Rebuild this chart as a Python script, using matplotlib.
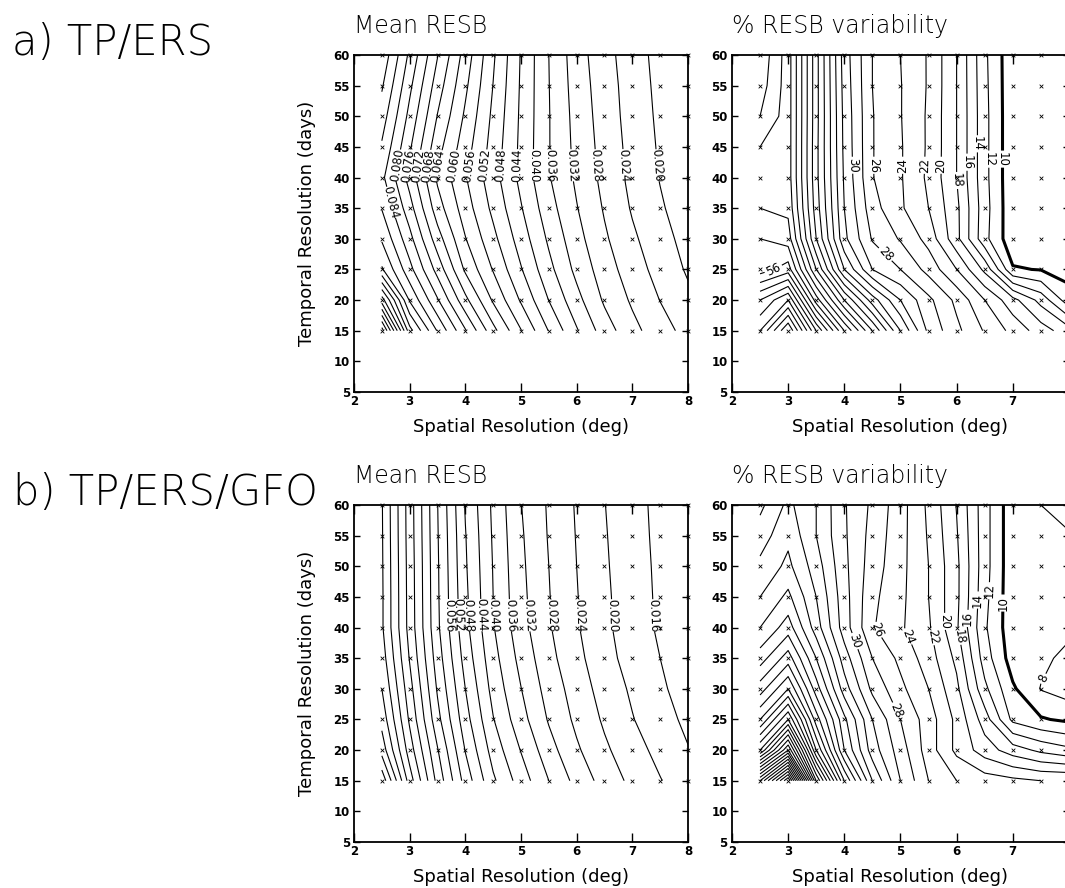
import numpy as np
import matplotlib
matplotlib.use("Agg")
import matplotlib.pyplot as plt

plt.rcParams['font.family'] = ['DejaVu Sans']

# grid of the experiments
spatial = [2.5, 3.0, 3.5, 4.0, 4.5, 5.0, 5.5, 6.0, 6.5, 7.0, 7.5, 8.0]
temporal = [15, 20, 25, 30, 35, 40, 45, 50, 55, 60]

# a) TP/ERS, mean RESB (rows = temporal, cols = spatial)
mean_tp_ers = [
    [0.1340, 0.1015, 0.0876, 0.0764, 0.0653, 0.0562, 0.0478, 0.0404, 0.0340, 0.0292, 0.0257, 0.0226],
    [0.1140, 0.0915, 0.0804, 0.0691, 0.0594, 0.0515, 0.0439, 0.0373, 0.0314, 0.0274, 0.0239, 0.0209],
    [0.0965, 0.0853, 0.0745, 0.0633, 0.0557, 0.0483, 0.0412, 0.0349, 0.0299, 0.0259, 0.0225, 0.0195],
    [0.0915, 0.0813, 0.0698, 0.0602, 0.0531, 0.0461, 0.0393, 0.0334, 0.0286, 0.0247, 0.0215, 0.0186],
    [0.0878, 0.0776, 0.0658, 0.0579, 0.0510, 0.0443, 0.0376, 0.0322, 0.0276, 0.0236, 0.0205, 0.0178],
    [0.0850, 0.0744, 0.0633, 0.0563, 0.0496, 0.0429, 0.0363, 0.0313, 0.0268, 0.0229, 0.0198, 0.0171],
    [0.0875, 0.0766, 0.0655, 0.0578, 0.0504, 0.0431, 0.0362, 0.0309, 0.0265, 0.0227, 0.0195, 0.0168],
    [0.0900, 0.0788, 0.0678, 0.0593, 0.0511, 0.0433, 0.0362, 0.0306, 0.0261, 0.0224, 0.0192, 0.0165],
    [0.0925, 0.0809, 0.0700, 0.0608, 0.0519, 0.0435, 0.0361, 0.0302, 0.0258, 0.0222, 0.0189, 0.0162],
    [0.0950, 0.0831, 0.0722, 0.0623, 0.0526, 0.0437, 0.0360, 0.0298, 0.0254, 0.0219, 0.0186, 0.0159],
]

# a) TP/ERS, % RESB variability
var_tp_ers = [
    [66.0, 74.0, 62.0, 52.0, 44.0, 36.0, 29.5, 26.5, 23.8, 21.4, 19.0, 16.8],
    [62.0, 66.0, 53.0, 44.0, 37.0, 32.0, 28.5, 25.5, 22.0, 18.7, 15.3, 10.8],
    [55.0, 57.0, 46.0, 36.0, 30.0, 28.0, 25.3, 22.0, 17.5, 10.2, 9.9, 9.3],
    [54.0, 53.0, 42.0, 32.5, 27.8, 25.8, 23.3, 18.6, 12.6, 8.6, 9.0, 9.0],
    [52.0, 51.5, 41.0, 32.0, 26.8, 24.3, 22.0, 18.5, 12.8, 8.5, 8.9, 9.0],
    [51.0, 51.0, 40.6, 31.7, 26.1, 24.2, 21.6, 18.0, 12.6, 8.5, 8.9, 9.0],
    [52.0, 51.0, 40.6, 31.5, 26.1, 24.2, 21.7, 18.0, 12.6, 8.5, 8.9, 9.0],
    [54.0, 51.0, 40.7, 31.4, 26.1, 24.1, 21.7, 18.0, 12.6, 8.5, 8.9, 9.0],
    [55.0, 51.0, 40.7, 31.2, 26.0, 24.1, 21.8, 18.0, 12.5, 8.5, 8.9, 9.0],
    [55.5, 51.0, 40.7, 31.0, 26.0, 24.0, 21.8, 18.0, 12.4, 8.5, 8.9, 8.9],
]

# b) TP/ERS/GFO, mean RESB
mean_tp_ers_gfo = [
    [0.1070, 0.0860, 0.0707, 0.0584, 0.0487, 0.0421, 0.0360, 0.0307, 0.0264, 0.0230, 0.0202, 0.0176],
    [0.0984, 0.0820, 0.0683, 0.0558, 0.0463, 0.0398, 0.0336, 0.0286, 0.0247, 0.0216, 0.0188, 0.0162],
    [0.0946, 0.0793, 0.0653, 0.0536, 0.0442, 0.0375, 0.0316, 0.0271, 0.0234, 0.0202, 0.0176, 0.0151],
    [0.0920, 0.0775, 0.0635, 0.0520, 0.0426, 0.0361, 0.0303, 0.0262, 0.0223, 0.0194, 0.0167, 0.0141],
    [0.0900, 0.0757, 0.0620, 0.0504, 0.0414, 0.0347, 0.0292, 0.0251, 0.0214, 0.0184, 0.0160, 0.0136],
    [0.0886, 0.0745, 0.0608, 0.0492, 0.0403, 0.0335, 0.0284, 0.0244, 0.0208, 0.0180, 0.0154, 0.0131],
    [0.0886, 0.0744, 0.0606, 0.0489, 0.0400, 0.0331, 0.0282, 0.0242, 0.0207, 0.0179, 0.0153, 0.0131],
    [0.0885, 0.0743, 0.0605, 0.0485, 0.0398, 0.0328, 0.0280, 0.0240, 0.0205, 0.0177, 0.0152, 0.0130],
    [0.0884, 0.0741, 0.0603, 0.0482, 0.0395, 0.0325, 0.0277, 0.0238, 0.0203, 0.0176, 0.0150, 0.0129],
    [0.0883, 0.0740, 0.0601, 0.0477, 0.0392, 0.0321, 0.0275, 0.0236, 0.0201, 0.0174, 0.0149, 0.0128],
]

# b) TP/ERS/GFO, % RESB variability
var_tp_ers_gfo = [
    [78.0, 92.0, 62.0, 46.0, 36.0, 30.0, 26.0, 24.0, 23.0, 22.5, 22.0, 22.0],
    [60.0, 72.0, 52.0, 40.0, 33.0, 29.0, 25.0, 21.5, 19.0, 17.0, 15.5, 14.5],
    [52.0, 60.0, 47.0, 38.5, 32.0, 28.0, 25.0, 21.5, 17.0, 11.5, 10.2, 9.6],
    [47.0, 52.0, 43.0, 35.0, 29.5, 26.5, 24.0, 20.5, 14.5, 10.3, 7.9, 7.0],
    [43.0, 47.0, 40.0, 33.0, 28.0, 25.5, 23.0, 19.5, 13.0, 9.0, 8.5, 7.4],
    [40.0, 43.0, 37.0, 31.0, 26.2, 24.3, 22.3, 18.3, 12.3, 8.7, 8.9, 8.5],
    [38.0, 40.5, 36.0, 30.8, 26.5, 24.5, 22.0, 18.5, 12.6, 8.6, 8.8, 8.6],
    [36.5, 38.5, 35.0, 30.5, 27.0, 24.6, 22.0, 18.5, 12.8, 8.6, 8.6, 8.3],
    [35.0, 37.5, 34.0, 30.3, 27.3, 24.7, 21.8, 18.2, 12.8, 8.6, 8.4, 8.2],
    [33.5, 36.5, 34.0, 30.2, 27.6, 24.8, 21.6, 17.9, 12.8, 8.6, 8.0, 7.0],
]

# where the contour labels sit: (level, x, y)
labels_mean_a = [(0.084, 2.70, 36), (0.080, 2.77, 42), (0.076, 2.94, 42), (0.072, 3.09, 42),
                 (0.068, 3.27, 42), (0.064, 3.45, 42), (0.060, 3.72, 42), (0.056, 4.02, 42),
                 (0.052, 4.32, 42), (0.048, 4.62, 42), (0.044, 4.92, 42), (0.040, 5.22, 42),
                 (0.036, 5.52, 42), (0.032, 5.93, 42), (0.028, 6.35, 42), (0.024, 6.83, 42),
                 (0.020, 7.46, 42)]
labels_var_a = [(56, 2.72, 25.5), (30, 4.1, 42), (28, 4.6, 26.5), (26, 4.5, 42), (24, 5.05, 42),
                (22, 5.43, 42), (20, 5.73, 42), (18, 5.98, 39.5), (16, 6.15, 42.5),
                (14, 6.33, 45.5), (12, 6.55, 43), (10, 6.8, 43)]
labels_mean_b = [(0.056, 3.5, 42), (0.052, 3.65, 42), (0.048, 3.9, 42), (0.044, 4.13, 42),
                 (0.040, 4.44, 42), (0.036, 4.77, 42), (0.032, 5.15, 42), (0.028, 5.56, 42),
                 (0.024, 6.02, 42), (0.020, 6.62, 42), (0.016, 7.39, 42)]
labels_var_b = [(30, 4.08, 37.5), (28, 4.93, 26.5), (26, 4.56, 39.5), (24, 5.12, 38.5),
                (22, 5.57, 38.5), (20, 5.8, 41), (18, 6.0, 38.5), (16, 6.17, 41.5),
                (14, 6.35, 44.5), (12, 6.6, 46), (10, 6.8, 44), (8, 7.45, 32)]


def draw_panel(ax, z, levels, thick, labels, fmt, title):
    X, Y = np.meshgrid(spatial, temporal)
    z = np.array(z)
    labelled = [lv for lv, _, _ in labels]

    def is_in(lv, group):
        return any(abs(lv - g) < 1e-9 for g in group)

    plain = [lv for lv in levels if not is_in(lv, labelled) and
             (thick is None or abs(lv - thick) > 1e-9)]
    if plain:
        ax.contour(X, Y, z, levels=plain, colors='k', linewidths=0.8)
    if thick is not None and not is_in(thick, labelled):
        ax.contour(X, Y, z, levels=[thick], colors='k', linewidths=2.2)
    # each labelled level is its own contour set so the label lands on it
    for lv, lx, ly in labels:
        lw = 2.2 if (thick is not None and abs(lv - thick) < 1e-9) else 0.8
        c = ax.contour(X, Y, z, levels=[lv], colors='k', linewidths=lw)
        if len(c.allsegs[0]) == 0:
            continue
        ax.clabel(c, manual=[(lx, ly)], inline=True, inline_spacing=3,
                  fmt=fmt, fontsize=8.5)
    ax.scatter(X.ravel(), Y.ravel(), marker='x', s=7, linewidths=0.6,
               c='k', zorder=3, clip_on=False)
    ax.set_xlim(2, 8)
    ax.set_ylim(5, 60)
    ax.set_xticks(range(2, 9))
    ax.set_yticks(range(5, 61, 5))
    ax.tick_params(direction='in', top=True, right=True, width=1.0, labelsize=8.5, pad=3)
    ax.tick_params(axis='x', length=6.5, pad=2)
    ax.tick_params(axis='y', length=4.5)
    for lab in ax.get_xticklabels() + ax.get_yticklabels():
        lab.set_fontweight('bold')
    for sp in ax.spines.values():
        sp.set_linewidth(1.3)
    ax.set_xlabel('Spatial Resolution (deg)', fontsize=13, va='top')
    ax.xaxis.set_label_coords(0.5, -0.078)
    ax.set_title(title, loc='left', fontsize=17, pad=16, fontweight='light')


fig = plt.figure(figsize=(10.65, 8.88), dpi=100)

ax1 = fig.add_axes([0.3324, 0.5586, 0.3136, 0.3795])
ax2 = fig.add_axes([0.6873, 0.5586, 0.3164, 0.3795])
ax3 = fig.add_axes([0.3324, 0.0518, 0.3136, 0.3795])
ax4 = fig.add_axes([0.6873, 0.0518, 0.3164, 0.3795])

draw_panel(ax1, mean_tp_ers, np.round(np.arange(0.020, 0.141, 0.004), 3), None,
           labels_mean_a, '%.3f', 'Mean RESB')
draw_panel(ax2, var_tp_ers, list(range(8, 100, 2)), 10, labels_var_a, '%d',
           '% RESB variability')
draw_panel(ax3, mean_tp_ers_gfo, np.round(np.arange(0.016, 0.121, 0.004), 3), None,
           labels_mean_b, '%.3f', 'Mean RESB')
draw_panel(ax4, var_tp_ers_gfo, list(range(8, 100, 2)), 10, labels_var_b, '%d',
           '% RESB variability')

for ax in (ax1, ax3):
    ax.set_ylabel('Temporal Resolution (days)', fontsize=13)
    ax.yaxis.set_label_coords(-0.115, 0.5)

fig.text(0.011, 0.938, 'a) TP/ERS', fontsize=30, va='baseline', fontweight='light')
fig.text(0.012, 0.4313, 'b) TP/ERS/GFO', fontsize=30, va='baseline', fontweight='light')

fig.savefig('out.png', dpi=100)
